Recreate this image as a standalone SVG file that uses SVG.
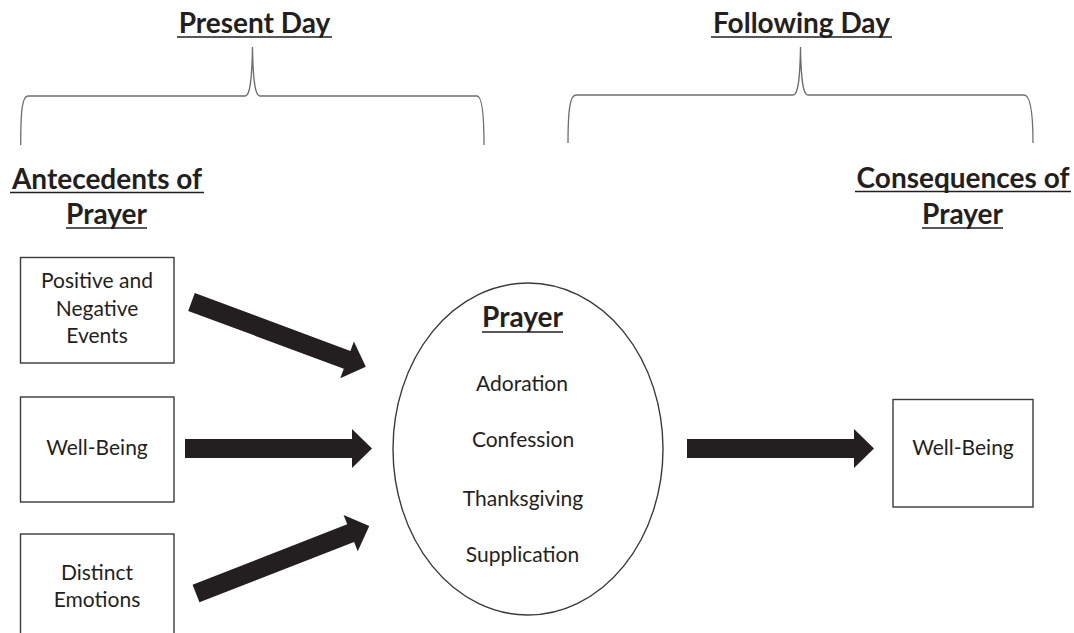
<svg xmlns="http://www.w3.org/2000/svg" width="1074" height="633" viewBox="0 0 1074 633">
<style>
.h{font-family:Lato,"Liberation Sans",sans-serif;font-weight:bold;font-size:28px;fill:#231f20;text-anchor:middle}
.t{font-family:Lato,"Liberation Sans",sans-serif;font-size:21px;fill:#231f20;text-anchor:middle}
.ul{stroke:#231f20;stroke-width:1.6}
.brace{fill:none;stroke:#6d6d6d;stroke-width:1.3}
.box{fill:#fff;stroke:#3a3a3a;stroke-width:1.4}
.arr{fill:#231f20}
</style>
<rect width="1074" height="633" fill="#fff"/>
<g id="period-present">
<text class="h" x="254.5" y="33">Present Day</text>
<line class="ul" x1="177" y1="37" x2="332" y2="37"/>
<path class="brace" d="M20.7,145 C20.7,112 22,96 28,96 L245,96 C250,96 252,80 252.5,47 C253,80 255,96 260,96 L477,96 C482,96 484,112 484,145"/>
</g>
<g id="period-following">
<text class="h" x="801.5" y="33">Following Day</text>
<line class="ul" x1="711" y1="37" x2="892" y2="37"/>
<path class="brace" d="M568,143 C568,110 570,95 576,95 L793,95 C798,95 800,80 800.5,47 C801,80 803,95 808,95 L1024,95 C1030,95 1033,110 1033,143"/>
</g>
<g id="label-antecedents">
<text class="h" x="107" y="189">Antecedents of</text>
<line class="ul" x1="10" y1="192.5" x2="204" y2="192.5"/>
<text class="h" x="106.5" y="224">Prayer</text>
<line class="ul" x1="66" y1="228" x2="147" y2="228"/>
</g>
<g id="label-consequences">
<text class="h" x="963" y="188">Consequences of</text>
<line class="ul" x1="855" y1="191.5" x2="1071" y2="191.5"/>
<text class="h" x="962.5" y="224">Prayer</text>
<line class="ul" x1="922" y1="228" x2="1003" y2="228"/>
</g>
<g id="node-events">
<rect class="box" x="20.5" y="257.5" width="153.5" height="105.5"/>
<text class="t" x="97" y="288">Positive and</text>
<text class="t" x="97" y="316">Negative</text>
<text class="t" x="97" y="343">Events</text>
</g>
<g id="node-wellbeing-present">
<rect class="box" x="20.5" y="397" width="153.5" height="105"/>
<text class="t" x="97" y="455">Well-Being</text>
</g>
<g id="node-emotions">
<rect class="box" x="20.5" y="534" width="153.5" height="110"/>
<text class="t" x="97" y="580">Distinct</text>
<text class="t" x="97" y="607">Emotions</text>
</g>
<g id="node-prayer">
<ellipse class="box" cx="528" cy="449" rx="135" ry="166"/>
<text class="h" x="522.5" y="327">Prayer</text>
<line class="ul" x1="482" y1="332" x2="563" y2="332"/>
<text class="t" x="522" y="391">Adoration</text>
<text class="t" x="523" y="447">Confession</text>
<text class="t" x="523" y="506">Thanksgiving</text>
<text class="t" x="522.5" y="562">Supplication</text>
</g>
<g id="node-wellbeing-following">
<rect class="box" x="893" y="399.5" width="140" height="107.5"/>
<text class="t" x="963" y="455">Well-Being</text>
</g>
<g id="connectors">
<polygon class="arr" transform="translate(191.5,302) rotate(20.4)" points="0,-9.5 166,-9.5 166,-19.5 186,0 166,19.5 166,9.5 0,9.5"/>
<polygon class="arr" points="185,439 352,439 352,429 372,448.5 352,468 352,458 185,458"/>
<polygon class="arr" transform="translate(196,593.5) rotate(-21.3)" points="0,-9.5 166,-9.5 166,-19.5 186,0 166,19.5 166,9.5 0,9.5"/>
<polygon class="arr" points="687,439 854,439 854,429 874,448.5 854,468 854,458 687,458"/>
</g>
</svg>
